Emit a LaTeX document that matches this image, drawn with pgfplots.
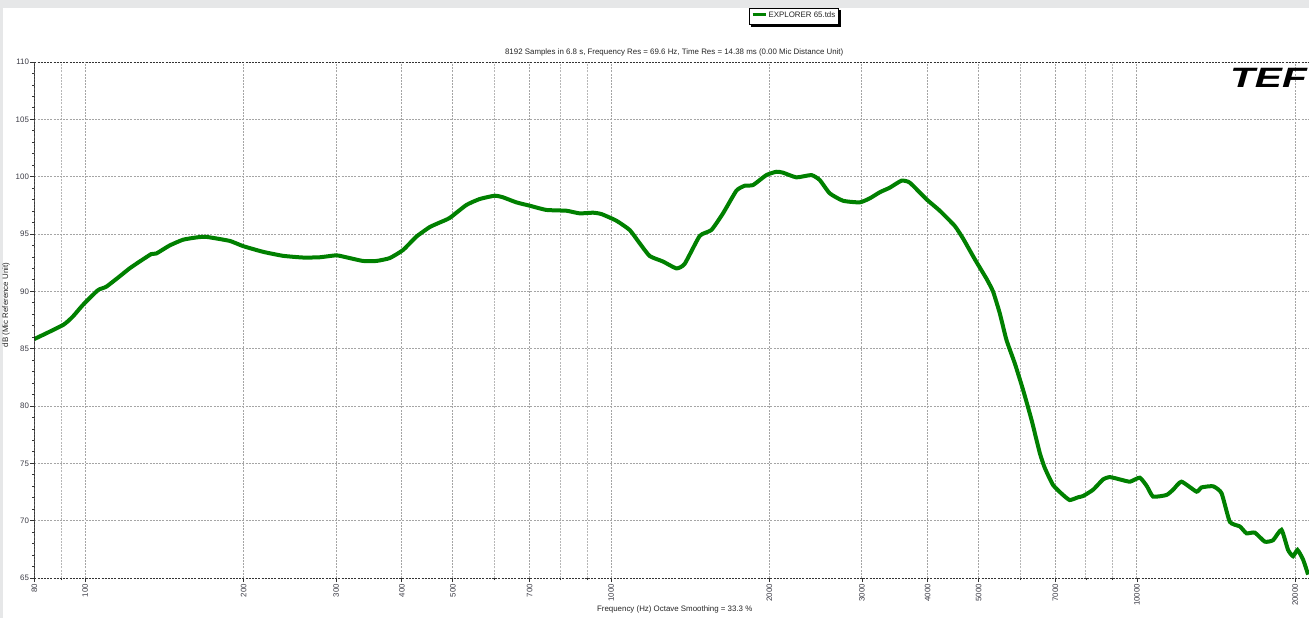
\documentclass[border=0pt]{standalone}
\usepackage{fontspec}
\setmainfont{Liberation Sans}
\usepackage{pgfplots}
\usepackage{pgfplotstable}
\pgfplotsset{compat=1.18}
\definecolor{curvegreen}{RGB}{0,128,0}
\definecolor{gridgray}{RGB}{165,165,165}
\definecolor{bggray}{RGB}{230,231,232}
\definecolor{ticktext}{RGB}{60,60,70}

\pgfplotstableread{
f dB
80 85.84
90.7 87.06
94.7 87.8
98.9 88.8
105.7 90.1
109.6 90.4
116.2 91.3
121.4 92.0
126.9 92.6
133.5 93.25
136.5 93.3
144.7 94.0
153.4 94.5
162.6 94.7
169.9 94.75
188.2 94.4
199.5 93.95
217.7 93.45
237.6 93.1
259.4 92.95
279.1 92.97
300.2 93.14
313.6 92.97
337.4 92.65
357.8 92.65
379.3 92.9
402.0 93.6
426.3 94.77
451.8 95.6
472.0 96.0
493.2 96.4
530.6 97.53
562.4 98.05
600.7 98.34
622.9 98.2
660.5 97.76
700.1 97.47
753.3 97.1
822.2 97.03
871.6 96.8
923.9 96.86
958.5 96.74
1023.5 96.16
1084.9 95.35
1133.5 94.19
1184.3 93.08
1255.4 92.6
1331.3 92.0
1380.4 92.4
1474.2 94.83
1551.7 95.35
1632.5 96.8
1731.2 98.78
1795.3 99.21
1861.8 99.27
1974.3 100.14
2062.7 100.43
2123.2 100.35
2251.5 99.94
2404.3 100.14
2493.3 99.71
2604.9 98.55
2761.2 97.9
2971.3 97.76
3104.4 98.11
3243.4 98.64
3388.6 99.04
3566.8 99.65
3698.9 99.48
3979.6 98.03
4218.4 97.03
4505.0 95.7
4671.9 94.6
4917.5 92.8
5175.9 91.1
5327.6 89.97
5486.2 88.08
5649.6 85.75
5858.8 83.72
6075.7 81.4
6303.4 78.8
6536.6 75.9
6681.3 74.6
6928.6 73.1
7238.7 72.24
7454.4 71.8
7730.4 72.04
7901.5 72.15
8255.3 72.7
8625.0 73.6
8882 73.8
9280 73.6
9700 73.4
10127 73.75
10450 73.0
10735 72.1
11383 72.24
11717 72.7
12156 73.4
12984 72.53
13272 72.9
13964 73.0
14487 72.4
15022 69.9
15694 69.5
16161 68.9
16759 68.96
17510 68.17
18157 68.3
18837 69.2
19389 67.45
19818 66.9
20204 67.45
20706 66.6
21164 65.3
}\curve

\begin{document}
\begin{tikzpicture}
\path[use as bounding box, fill=bggray] (0,0) rectangle (654.5pt,309pt);
\fill[white] (1.5pt,0) rectangle (654.5pt,305pt);
\begin{axis}[
  at={(17.15pt,20pt)}, anchor=south west,
  scale only axis, width=637.35pt, height=258pt,
  xmode=log, xmin=80, xmax=21250, ymin=65, ymax=110,
  axis line style={draw=none},
  xtick={80,100,200,300,400,500,700,1000,2000,3000,4000,5000,7000,10000,20000},
  xticklabels={80,100,200,300,400,500,700,1000,2000,3000,4000,5000,7000,10000,20000},
  minor xtick={90,600,800,900,6000,8000,9000},
  ytick={65,70,75,80,85,90,95,100,105,110},
  yticklabels={65,70,75,80,85,90,95,100,105,110},
  minor y tick num=4,
  xtick pos=bottom, ytick pos=left,
  tick align=outside,
  major tick length=2pt, minor tick length=1pt,
  tick style={black!80, line width=0.4pt},
  xmajorgrids, xminorgrids, ymajorgrids,
  major grid style={gridgray, dash pattern=on 1pt off 0.6pt, line width=0.5pt},
  minor grid style={gridgray!80, dash pattern=on 1pt off 0.6pt, line width=0.5pt},
  ticklabel style={font=\fontsize{3.95pt}{4.7pt}\selectfont, text=ticktext},
  xticklabel style={rotate=90, anchor=east, inner sep=0.8pt},
  yticklabel style={inner sep=0.5pt},
  xlabel={Frequency (Hz) Octave Smoothing = 33.3 \%},
  xlabel style={at={(axis description cs:0.5024,0)}, anchor=center, yshift=-15.5pt, font=\fontsize{3.95pt}{4.7pt}\selectfont, text=black!85},
  ylabel={dB (Mic Reference Unit)},
  ylabel style={at={(axis description cs:-0.0222,0.529)}, anchor=center, font=\fontsize{3.95pt}{4.7pt}\selectfont, text=black!85},
  title={8192 Samples in 6.8 s, Frequency Res = 69.6 Hz, Time Res = 14.38 ms (0.00 Mic Distance Unit)},
  title style={at={(axis description cs:0.502,1)}, anchor=center, yshift=-1pt, font=\fontsize{3.95pt}{4.7pt}\selectfont, text=black!85},
  legend style={name=leg, at={(axis description cs:0.596,1.088)}, anchor=center,
    draw=black, line width=0.4pt, fill=white, inner xsep=0.8pt, inner ysep=0.5pt,
    nodes={inner xsep=0.8pt, inner ysep=1.2pt},
    font=\fontsize{3.95pt}{4.7pt}\selectfont, text=black!85},
  legend image code/.code={\draw[#1, line width=1.4pt] (0pt,0.9pt) -- (6.5pt,0.9pt);},
]
\addplot[curvegreen, line width=2pt, smooth, tension=0.3] table[x=f, y=dB] {\curve};
\addlegendentry{EXPLORER 65.tds}
\draw[black, line width=0.5pt] (rel axis cs:0,0) -- (rel axis cs:0,1);
\draw[black!80, dash pattern=on 1pt off 0.6pt, line width=0.5pt] (rel axis cs:0,0) -- (rel axis cs:1,0);
\draw[black!80, dash pattern=on 1pt off 0.6pt, line width=0.5pt] (rel axis cs:0,1) -- (rel axis cs:1,1);
\end{axis}
\draw[black, line width=1pt] ([shift={(1pt,-0.5pt)}]leg.south west) -- ([shift={(0.5pt,-0.5pt)}]leg.south east) -- ([shift={(0.5pt,-1pt)}]leg.north east);
\node[font=\fontsize{14pt}{14pt}\selectfont\bfseries\itshape, xscale=1.45, inner sep=0pt] at (634.25pt,270pt) {TEF};
\end{tikzpicture}
\end{document}
